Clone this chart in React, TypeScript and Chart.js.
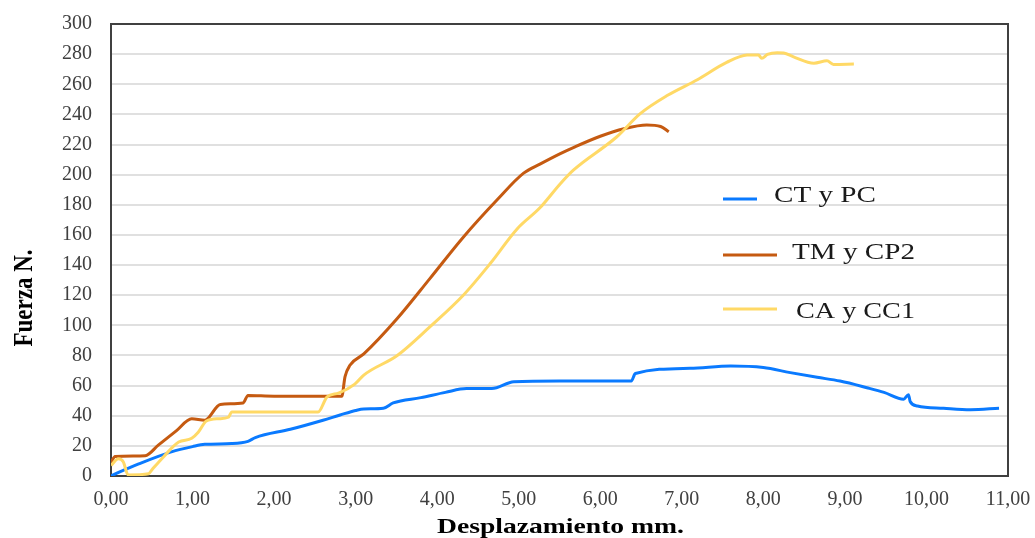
import React, { useEffect, useRef } from 'react';
import { Chart, registerables } from 'chart.js';

Chart.register(...registerables);

// ---- Data ----
const seriesNames = ['CT y PC', 'TM y CP2', 'CA y CC1'];
const seriesColors = ['#0a7aff', '#c55a11', '#ffd966'];

const ctDisp = [0.0, 0.1, 0.34, 0.74, 1.0, 1.15, 1.48, 1.68, 1.77, 2.2, 2.6, 2.81, 3.0, 3.1, 3.34, 3.46, 3.8, 4.1, 4.36, 4.67, 4.94, 5.5, 6.0, 6.38, 6.43, 7.1, 7.6, 8.0, 8.33, 8.66, 8.94, 9.27, 9.48, 9.72, 9.78, 9.8, 9.89, 10.21, 10.54, 10.89];
const ctForce = [0, 2.5, 8, 16, 19.5, 21, 21.5, 23, 25.5, 31, 37, 40.5, 43.5, 44.5, 45, 48.5, 52, 55.5, 58, 58, 62.5, 63, 63, 63, 68, 71.5, 73, 72, 68.6, 65.5, 63, 58.6, 55.5, 51, 54, 49.5, 46.5, 45, 44, 45];

const tmDisp = [0.0, 0.05, 0.42, 0.58, 0.8, 0.99, 1.15, 1.34, 1.62, 1.68, 2.0, 2.5, 2.83, 2.87, 2.93, 3.1, 3.51, 3.91, 4.32, 4.73, 5.06, 5.26, 5.51, 5.67, 6.0, 6.29, 6.57, 6.74, 6.84];
const tmForce = [9, 13, 13.5, 20.5, 30, 38, 37, 47.5, 48.5, 53.5, 53, 53, 53, 66, 73.5, 81, 104.5, 131, 158.5, 183, 201, 207, 214, 218, 225.5, 230.5, 233, 232, 228.5];

const caDisp = [0.0, 0.09, 0.15, 0.21, 0.46, 0.5, 0.64, 0.83, 0.99, 1.07, 1.17, 1.32, 1.44, 1.48, 2.0, 2.54, 2.65, 2.79, 2.99, 3.1, 3.51, 3.91, 4.32, 4.65, 4.98, 5.26, 5.51, 5.67, 6.2, 6.49, 6.82, 7.19, 7.55, 7.8, 7.94, 7.98, 8.05, 8.17, 8.25, 8.37, 8.62, 8.78, 8.86, 9.11];
const caForce = [7, 11.5, 9.5, 0.7, 1.5, 4, 12.5, 22.5, 25, 29, 36.5, 38, 39, 42.5, 42.5, 42.5, 52.5, 55, 61, 67, 80, 99, 120, 141, 164, 178, 194, 203, 225, 240.5, 252.5, 263, 274.5, 279.4, 279.5, 277.2, 279.8, 281, 280.8, 278.2, 274, 275.6, 273.2, 273.4];

const xTitle = 'Desplazamiento mm.';
const yTitle = 'Fuerza N.';

const toPoints = (xs: number[], ys: number[]) => xs.map((x, i) => ({ x, y: ys[i] }));

function drawStretched(ctx: CanvasRenderingContext2D, text: string, x: number, y: number, width: number) {
  const w = ctx.measureText(text).width;
  ctx.save();
  ctx.translate(x, y);
  ctx.scale(width / w, 1);
  ctx.textAlign = 'left';
  ctx.fillText(text, 0, 0);
  ctx.restore();
}

const decorPlugin = {
  id: 'decor',
  beforeDatasetsDraw(chart: any) {
    const { ctx, chartArea: a } = chart;
    ctx.save();
    ctx.strokeStyle = '#404040';
    ctx.lineWidth = 2;
    ctx.strokeRect(a.left, a.top, a.right - a.left, a.bottom - a.top);
    ctx.restore();
  },
  afterDraw(chart: any) {
    const { ctx } = chart;
    ctx.save();
    // Legend inside plot
    const legend = [
      { x1: 723, x2: 757, ly: 199, tx: 774, ty: 202, tw: 102 },
      { x1: 723, x2: 777, ly: 255, tx: 792, ty: 259, tw: 123 },
      { x1: 723, x2: 777, ly: 309, tx: 796, ty: 318, tw: 119 },
    ];
    legend.forEach((e, i) => {
      ctx.strokeStyle = seriesColors[i];
      ctx.lineWidth = 3;
      ctx.beginPath();
      ctx.moveTo(e.x1, e.ly);
      ctx.lineTo(e.x2, e.ly);
      ctx.stroke();
      ctx.fillStyle = '#1a1a1a';
      ctx.font = '24px "Liberation Serif"';
      ctx.textBaseline = 'alphabetic';
      drawStretched(ctx, seriesNames[i], e.tx, e.ty, e.tw);
    });

    // X title
    ctx.fillStyle = '#000';
    ctx.font = 'bold 22px "Liberation Serif"';
    ctx.textBaseline = 'alphabetic';
    drawStretched(ctx, xTitle, 437, 533, 247);

    // Y title (rotated)
    ctx.save();
    ctx.translate(25, 298);
    ctx.rotate(-Math.PI / 2);
    ctx.font = 'bold 22px "Liberation Serif"';
    const w = ctx.measureText(yTitle).width;
    ctx.scale(97 / w, 1.2);
    ctx.textAlign = 'center';
    ctx.textBaseline = 'middle';
    ctx.fillText(yTitle, 0, 0);
    ctx.restore();
    ctx.restore();
  },
};

export default function App() {
  const canvasRef = useRef<HTMLCanvasElement | null>(null);

  useEffect(() => {
    if (!canvasRef.current) return;
    const chart = new Chart(canvasRef.current, {
      type: 'line',
      data: {
        datasets: [
          { label: seriesNames[0], data: toPoints(ctDisp, ctForce), borderColor: seriesColors[0], order: 2 },
          { label: seriesNames[1], data: toPoints(tmDisp, tmForce), borderColor: seriesColors[1], order: 1 },
          { label: seriesNames[2], data: toPoints(caDisp, caForce), borderColor: seriesColors[2], order: 0 },
        ].map((d) => ({
          ...d,
          borderWidth: 3,
          pointRadius: 0,
          fill: false,
          cubicInterpolationMode: 'monotone' as const,
        })),
      },
      options: {
        animation: false,
        responsive: true,
        maintainAspectRatio: false,
        layout: { padding: { top: 24, right: 27, bottom: 0, left: 0 } },
        plugins: {
          legend: { display: false },
          tooltip: { enabled: false },
        },
        scales: {
          x: {
            type: 'linear',
            min: 0,
            max: 11,
            afterFit: (s: any) => {
              s.height = 62;
              s.paddingLeft = 0;
              s.paddingRight = 0;
            },
            ticks: {
              stepSize: 1,
              padding: 12,
              color: '#404040',
              font: { family: '"Liberation Serif"', size: 20 },
              maxRotation: 0,
              callback: (v: any) => Number(v).toFixed(2).replace('.', ','),
            },
            grid: { display: false, drawTicks: false },
            border: { display: false },
          },
          y: {
            min: 0,
            max: 300,
            afterFit: (s: any) => {
              s.width = 111;
              s.paddingTop = 0;
              s.paddingBottom = 0;
            },
            ticks: {
              stepSize: 20,
              padding: 19,
              color: '#404040',
              font: { family: '"Liberation Serif"', size: 20 },
            },
            grid: { color: '#e0e0e0', lineWidth: 2, drawTicks: false },
            border: { display: false },
          },
        },
      },
      plugins: [decorPlugin],
    });
    return () => chart.destroy();
  }, []);

  return (
    <div style={{ position: 'fixed', left: 0, top: 0, width: 1035, height: 538, background: '#fff' }}>
      <canvas ref={canvasRef} />
    </div>
  );
}
